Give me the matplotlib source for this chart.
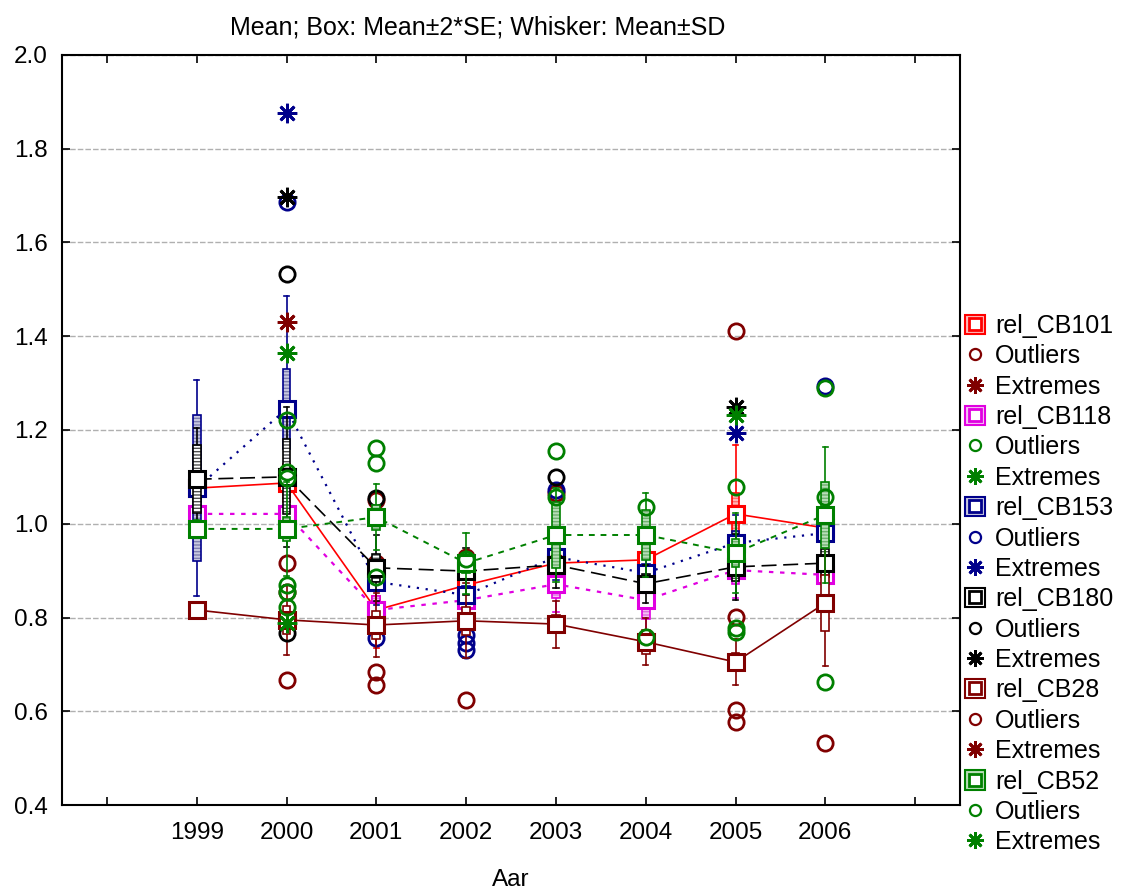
import matplotlib
matplotlib.use("Agg")
import matplotlib.pyplot as plt
from matplotlib.patches import Rectangle, Patch
from matplotlib.lines import Line2D
from matplotlib.legend_handler import HandlerTuple

plt.rcParams['font.family'] = ['Liberation Sans', 'DejaVu Sans']

years = [1999, 2000, 2001, 2002, 2003, 2004, 2005, 2006]
series = ["rel_CB101", "rel_CB118", "rel_CB153", "rel_CB180", "rel_CB28", "rel_CB52"]

mean_CB101 = [1.076, 1.087, 0.816, 0.869, 0.916, 0.923, 1.021, 0.991]
se2_CB101 = [0.03, 0.04, 0.03, 0.02, 0.02, 0.02, 0.045, 0.02]
sd_CB101 = [0.08, 0.12, 0.08, 0.06, 0.06, 0.06, 0.147, 0.07]

mean_CB118 = [1.021, 1.021, 0.816, 0.837, 0.871, 0.837, 0.901, 0.891]
se2_CB118 = [0.02, 0.02, 0.03, 0.02, 0.03, 0.04, 0.03, 0.02]
sd_CB118 = [0.05, 0.05, 0.06, 0.05, 0.06, 0.07, 0.06, 0.05]

mean_CB153 = [1.076, 1.245, 0.876, 0.848, 0.929, 0.895, 0.959, 0.980]
se2_CB153 = [0.155, 0.085, 0.02, 0.02, 0.02, 0.02, 0.025, 0.02]
sd_CB153 = [0.231, 0.24, 0.05, 0.05, 0.05, 0.04, 0.06, 0.05]

mean_CB180 = [1.095, 1.100, 0.906, 0.899, 0.912, 0.872, 0.908, 0.916]
se2_CB180 = [0.073, 0.08, 0.03, 0.02, 0.02, 0.02, 0.03, 0.03]
sd_CB180 = [0.11, 0.15, 0.07, 0.05, 0.05, 0.04, 0.07, 0.06]

mean_CB28 = [0.816, 0.795, 0.784, 0.793, 0.786, 0.748, 0.705, 0.831]
se2_CB28 = [0.01, 0.03, 0.03, 0.03, 0.02, 0.025, 0.02, 0.06]
sd_CB28 = [0.018, 0.075, 0.068, 0.08, 0.05, 0.05, 0.05, 0.135]

mean_CB52 = [0.989, 0.989, 1.014, 0.916, 0.976, 0.976, 0.938, 1.019]
se2_CB52 = [0.01, 0.025, 0.027, 0.02, 0.07, 0.054, 0.03, 0.07]
sd_CB52 = [0.02, 0.10, 0.07, 0.065, 0.10, 0.09, 0.086, 0.145]

# outliers (circles) and extremes (asterisks): (year, value)
out_darkred = [(2000, 0.916), (2000, 0.854), (2000, 0.667), (2001, 0.916), (2001, 0.684),
               (2001, 0.656), (2001, 1.050), (2002, 0.930), (2002, 0.624), (2003, 1.065),
               (2003, 0.918), (2004, 0.752), (2005, 1.411), (2005, 0.801), (2005, 0.603),
               (2005, 0.578), (2006, 0.532)]
out_green = [(2000, 1.221), (2000, 1.110), (2000, 1.098), (2000, 0.869), (2000, 0.854),
             (2000, 0.822), (2001, 1.162), (2001, 1.130), (2001, 0.886), (2002, 0.925),
             (2003, 1.155), (2003, 1.057), (2004, 1.036), (2004, 0.758), (2005, 1.078),
             (2005, 0.778), (2005, 0.769), (2006, 1.290), (2006, 1.057), (2006, 0.662)]
out_navy = [(2000, 1.686), (2001, 0.756), (2002, 0.763), (2002, 0.746), (2002, 0.731),
            (2003, 1.072), (2006, 1.293)]
out_black = [(2000, 1.533), (2000, 0.767), (2001, 1.055), (2003, 1.100)]
ext_navy = [(2000, 1.876), (2005, 1.194)]
ext_black = [(2000, 1.697), (2005, 1.249)]
ext_darkred = [(2000, 1.430)]
ext_green = [(2000, 1.364), (2000, 0.788), (2005, 1.232)]

RED, MAG, NAVY, BLK, DRED, GRN = '#FF0000', '#E000E0', '#00008B', '#000000', '#800000', '#008000'

styles = {
    "rel_CB101": dict(color=RED, ls='-', lw=1.2, face='#FFB8B8', hatch_c='#FF7070'),
    "rel_CB118": dict(color=MAG, ls=(0, (2, 3)), lw=1.6, face='#F4C0F4', hatch_c='#E070E0'),
    "rel_CB153": dict(color=NAVY, ls=(0, (1, 3)), lw=1.6, face='#C8C8E0', hatch_c='#8080B0'),
    "rel_CB180": dict(color=BLK, ls=(0, (9, 4)), lw=1.2, face='#FFFFFF', hatch_c='#505050'),
    "rel_CB28": dict(color=DRED, ls='-', lw=1.2, face='#FFFFFF', hatch_c='#FFFFFF'),
    "rel_CB52": dict(color=GRN, ls=(0, (3, 3)), lw=1.4, face='#B8DDB8', hatch_c='#70B070'),
}
data = {
    "rel_CB101": (mean_CB101, se2_CB101, sd_CB101),
    "rel_CB118": (mean_CB118, se2_CB118, sd_CB118),
    "rel_CB153": (mean_CB153, se2_CB153, sd_CB153),
    "rel_CB180": (mean_CB180, se2_CB180, sd_CB180),
    "rel_CB28": (mean_CB28, se2_CB28, sd_CB28),
    "rel_CB52": (mean_CB52, se2_CB52, sd_CB52),
}

fig = plt.figure(figsize=(11.26, 8.89), dpi=100)
ax = fig.add_axes([62 / 1126, 1 - 805 / 889, 898 / 1126, 750 / 889])

bw = 0.085
cap = 0.03
for i, name in enumerate(series):
    st = styles[name]
    m, s2, sd = data[name]
    z = 2 + i * 0.1
    ax.plot(years, m, color=st['color'], ls=st['ls'], lw=st['lw'], zorder=z)
    for x, mv, b, d in zip(years, m, s2, sd):
        ax.plot([x, x], [mv - d, mv + d], color=st['color'], lw=1.2, zorder=z)
        ax.plot([x - cap, x + cap], [mv + d, mv + d], color=st['color'], lw=1.2, zorder=z)
        ax.plot([x - cap, x + cap], [mv - d, mv - d], color=st['color'], lw=1.2, zorder=z)
        ax.add_patch(Rectangle((x - bw / 2, mv - b), bw, 2 * b, facecolor=st['face'],
                               edgecolor=st['hatch_c'], hatch='-----', lw=0, zorder=z + 0.01))
        ax.add_patch(Rectangle((x - bw / 2, mv - b), bw, 2 * b, facecolor='none',
                               edgecolor=st['color'], lw=1.2, zorder=z + 0.02))
    ax.plot(years, m, ls='none', marker='s', ms=11, mfc='white', mec=st['color'], mew=2.2,
            zorder=z + 0.05)

def pts(lst, color, marker, ms, mew, z):
    xs = [p[0] for p in lst]
    ys = [p[1] for p in lst]
    ax.plot(xs, ys, ls='none', marker=marker, ms=ms, mfc='none', mec=color, mew=mew, zorder=z)

pts(out_darkred, DRED, 'o', 11, 2.0, 2.3)
pts(out_navy, NAVY, 'o', 11, 2.0, 2.3)
pts(out_black, BLK, 'o', 11, 2.0, 2.4)
pts(out_green, GRN, 'o', 11, 2.0, 2.7)
AST = (8, 2, 0)
pts(ext_navy, NAVY, AST, 14, 2.0, 3)
pts(ext_black, BLK, AST, 14, 2.0, 3)
pts(ext_darkred, DRED, AST, 14, 2.0, 3)
pts(ext_green, GRN, AST, 14, 2.0, 3)

ax.set_xlim(1997.5, 2007.5)
ax.set_ylim(0.4, 2.0)
ax.set_xticks(list(range(1998, 2008)))
ax.set_xticklabels([''] + [str(y) for y in years] + [''])
yt = [0.4, 0.6, 0.8, 1.0, 1.2, 1.4, 1.6, 1.8, 2.0]
ax.set_yticks(yt)
ax.set_yticklabels([f"{v:.1f}" for v in yt])
ax.tick_params(direction='in', top=True, right=True, length=6, width=1.2, labelsize=17.5,
               colors='black')
ax.tick_params(axis='x', pad=12)
ax.tick_params(axis='y', pad=10)
for sp in ax.spines.values():
    sp.set_linewidth(1.5)
ax.yaxis.grid(True, color='#B0B0B0', ls=(0, (4, 1.5)), lw=1.0, zorder=0)
ax.set_axisbelow(True)
ax.set_title("Mean; Box: Mean±2*SE; Whisker: Mean±SD", fontsize=18, pad=15, x=0.463)
ax.set_xlabel("Aar", fontsize=17.5, labelpad=18)

# legend
handles, labels = [], []
legend_cols = [(RED, DRED), (MAG, GRN), (NAVY, NAVY), (BLK, BLK), (DRED, DRED), (GRN, GRN)]
for name, (bc, oc) in zip(series, legend_cols):
    st = styles[name]
    box = Patch(facecolor=st['face'], edgecolor=bc, lw=1.5)
    sq = Line2D([], [], ls='none', marker='s', ms=9, mfc='white', mec=bc, mew=2)
    handles.append((box, sq)); labels.append(name)
    handles.append(Line2D([], [], ls='none', marker='o', ms=8, mfc='none', mec=oc, mew=1.6))
    labels.append("Outliers")
    handles.append(Line2D([], [], ls='none', marker=AST, ms=12, mfc='none', mec=oc, mew=2.0))
    labels.append("Extremes")

leg = fig.legend(handles, labels, loc='upper left', bbox_to_anchor=(960 / 1126, 1 - 309 / 889),
                 frameon=False, fontsize=18, handlelength=0.8, handleheight=0.8,
                 handletextpad=0.4, labelspacing=0.255, borderpad=0.2, borderaxespad=0,
                 handler_map={tuple: HandlerTuple(ndivide=1, pad=0)})

fig.savefig("out.png", dpi=100)
